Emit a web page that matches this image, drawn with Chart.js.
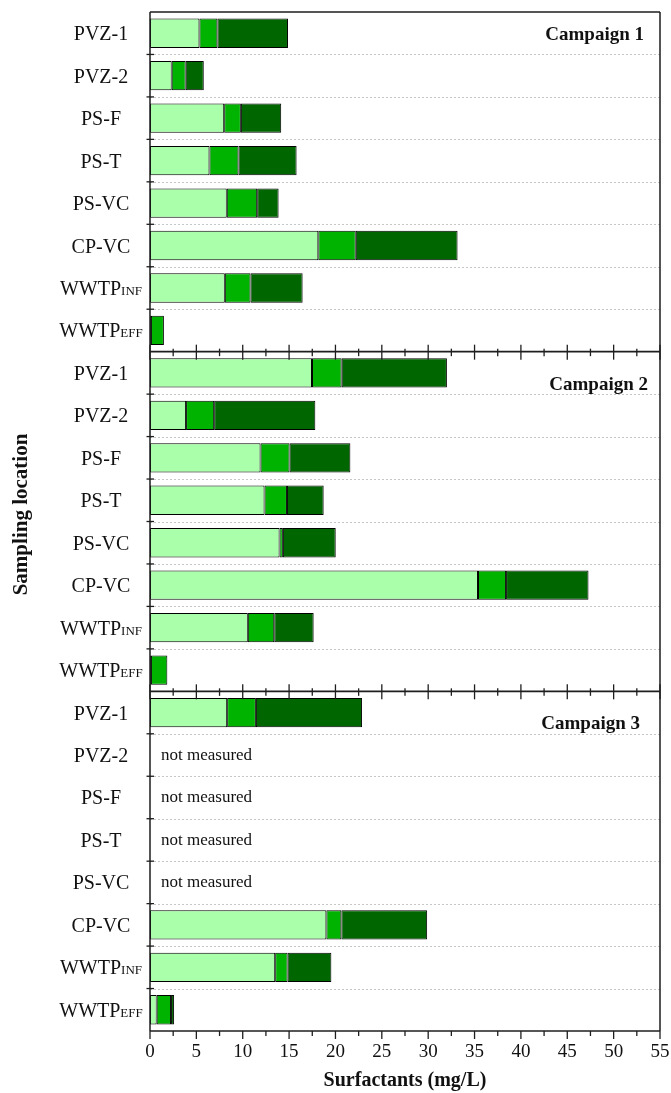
<!DOCTYPE html>
<html>
<head>
<meta charset="utf-8">
<script src="https://cdn.jsdelivr.net/npm/chart.js@4.4.1/dist/chart.umd.min.js"></script>
<style>
  html, body { margin: 0; padding: 0; background: #fff; }
  #wrap { position: relative; width: 671px; height: 1093px; }
</style>
</head>
<body>
<div id="wrap"><canvas id="c" width="671" height="1093"></canvas></div>
<script>
// Sampling sites (a suffix after "_" is drawn as a small-caps subscript)
const sites = ['PVZ-1', 'PVZ-2', 'PS-F', 'PS-T', 'PS-VC', 'CP-VC', 'WWTP_INF', 'WWTP_EFF'];
const campaigns = ['Campaign 1', 'Campaign 2', 'Campaign 3'];
const xTickValues = [0, 5, 10, 15, 20, 25, 30, 35, 40, 45, 50, 55];

// Surfactant fractions (mg/L), stacked left to right
const c1FracA = [5.33, 2.34, 8.00, 6.41, 8.28, 18.15, 8.07, 0.10];
const c1FracB = [1.94, 1.51, 1.80, 3.13, 3.28, 4.04, 2.77, 1.40];
const c1FracC = [7.61, 1.95, 4.35, 6.27, 2.31, 10.98, 5.62, null];

const c2FracA = [17.47, 3.89, 11.92, 12.35, 13.97, 35.37, 10.55, 0.10];
const c2FracB = [3.20, 3.03, 3.13, 2.42, 0.36, 3.03, 2.85, 1.77];
const c2FracC = [11.35, 10.91, 6.56, 3.96, 5.70, 8.89, 4.25, null];

const c3FracA = [8.32, null, null, null, null, 19.02, 13.50, 0.72];
const c3FracB = [3.10, null, null, null, null, 1.62, 1.34, 1.55];
const c3FracC = [11.45, null, null, null, null, 9.25, 4.72, 0.33];

const missingText = 'not measured';

const rowLabels = campaigns.flatMap(() => sites);
const fracA = [...c1FracA, ...c2FracA, ...c3FracA];
const fracB = [...c1FracB, ...c2FracB, ...c3FracB];
const fracC = [...c1FracC, ...c2FracC, ...c3FracC];

const SERIF = "'Liberation Serif', 'Times New Roman', serif";
const PER_PANEL = sites.length;

function rowEdge(y, i) {
  const step = y.getPixelForValue(1) - y.getPixelForValue(0);
  return y.getPixelForValue(i) - step / 2;
}

const panelsPlugin = {
  id: 'panels',
  beforeDatasetsDraw(chart) {
    const { ctx, chartArea: a, scales: { y } } = chart;
    ctx.save();
    ctx.strokeStyle = '#c6c6c6';
    ctx.lineWidth = 1;
    ctx.setLineDash([2, 2]);
    for (let i = 1; i < rowLabels.length; i++) {
      if (i % PER_PANEL === 0) continue;
      const yy = Math.round(rowEdge(y, i)) + 0.5;
      ctx.beginPath();
      ctx.moveTo(a.left, yy);
      ctx.lineTo(a.right, yy);
      ctx.stroke();
    }
    ctx.restore();
  },
  afterDatasetsDraw(chart) {
    const { ctx, chartArea: a, scales: { x, y } } = chart;
    ctx.save();
    ctx.strokeStyle = '#1e1e1e';
    ctx.lineWidth = 1.5;

    // outer frame
    ctx.beginPath();
    ctx.moveTo(a.left, a.top); ctx.lineTo(a.right, a.top);
    ctx.moveTo(a.left, a.top); ctx.lineTo(a.left, a.bottom);
    ctx.moveTo(a.right, a.top); ctx.lineTo(a.right, a.bottom);
    ctx.stroke();

    // panel axes with tick marks
    for (let p = 1; p <= campaigns.length; p++) {
      const yy = rowEdge(y, p * PER_PANEL);
      const last = p === campaigns.length;
      ctx.lineWidth = 1.6;
      ctx.beginPath();
      ctx.moveTo(a.left, yy); ctx.lineTo(a.right, yy);
      ctx.stroke();
      ctx.lineWidth = 1.3;
      for (let v = 0; v <= 55; v += 2.5) {
        const xx = x.getPixelForValue(v);
        const major = v % 5 === 0;
        const up = last ? 0 : (major ? 7 : 3);
        const down = major ? 8 : (last ? 5 : 4.5);
        ctx.beginPath();
        ctx.moveTo(xx, yy - up);
        ctx.lineTo(xx, yy + down);
        ctx.stroke();
      }
    }

    // left-axis tick marks at row boundaries
    ctx.lineWidth = 1.3;
    for (let i = 1; i < rowLabels.length; i++) {
      if (i % PER_PANEL === 0) continue;
      const yy = rowEdge(y, i);
      ctx.beginPath();
      ctx.moveTo(a.left - 3.5, yy);
      ctx.lineTo(a.left + 4, yy);
      ctx.stroke();
    }

    // site labels
    ctx.fillStyle = '#111';
    ctx.textBaseline = 'alphabetic';
    ctx.textAlign = 'left';
    const mainFont = '20px ' + SERIF;
    const subFont = '13px ' + SERIF;
    rowLabels.forEach((lab, i) => {
      const [main, sub] = lab.split('_');
      ctx.font = mainFont;
      const w1 = ctx.measureText(main).width;
      ctx.font = subFont;
      const w2 = sub ? ctx.measureText(sub).width : 0;
      const x0 = 101 - (w1 + w2) / 2;
      const base = y.getPixelForValue(i) + 7;
      ctx.font = mainFont;
      ctx.fillText(main, x0, base);
      if (sub) {
        ctx.font = subFont;
        ctx.fillText(sub, x0 + w1, base);
      }
      if (fracA[i] == null && fracB[i] == null && fracC[i] == null) {
        ctx.font = '17px ' + SERIF;
        ctx.fillText(missingText, a.left + 11, y.getPixelForValue(i) + 5);
      }
    });

    // campaign captions
    const captionOffset = [[16, 28], [12, 38], [20, 38]];
    ctx.font = 'bold 19px ' + SERIF;
    ctx.textAlign = 'right';
    campaigns.forEach((name, p) => {
      const top = rowEdge(y, p * PER_PANEL);
      ctx.fillText(name, a.right - captionOffset[p][0], top + captionOffset[p][1]);
    });

    // vertical axis title
    ctx.font = 'bold 21px ' + SERIF;
    ctx.textAlign = 'center';
    ctx.translate(27, (a.top + a.bottom) / 2 - 7);
    ctx.rotate(-Math.PI / 2);
    ctx.fillText('Sampling location', 0, 0);
    ctx.restore();
  }
};

const segStyle = { borderColor: '#000', borderWidth: 1, borderSkipped: false,
                   barPercentage: 0.69, categoryPercentage: 1 };

new Chart(document.getElementById('c'), {
  type: 'bar',
  data: {
    labels: rowLabels,
    datasets: [
      { label: 'A', data: fracA, backgroundColor: '#aaffaa', ...segStyle },
      { label: 'B', data: fracB, backgroundColor: '#00b300', ...segStyle },
      { label: 'C', data: fracC, backgroundColor: '#006600', ...segStyle }
    ]
  },
  options: {
    indexAxis: 'y',
    responsive: false,
    animation: false,
    events: [],
    layout: { padding: { left: 150, right: 11, top: 12, bottom: 0 } },
    plugins: { legend: { display: false }, tooltip: { enabled: false } },
    scales: {
      y: { type: 'category', stacked: true, display: false },
      x: {
        type: 'linear', stacked: true, min: 0, max: 55,
        grid: { display: false },
        border: { display: false },
        afterBuildTicks(scale) { scale.ticks = xTickValues.map(v => ({ value: v })); },
        afterFit(scale) {
          scale.height = 62;
          scale.paddingLeft = 0;
          scale.paddingRight = 0;
        },
        ticks: {
          autoSkip: false, maxRotation: 0, padding: 2, color: '#111',
          font: { family: SERIF, size: 19 }
        },
        title: {
          display: true, text: 'Surfactants (mg/L)', color: '#111',
          font: { family: SERIF, size: 20, weight: 'bold' },
          padding: { top: 4, bottom: 0 }
        }
      }
    }
  },
  plugins: [panelsPlugin]
});
</script>
</body>
</html>
